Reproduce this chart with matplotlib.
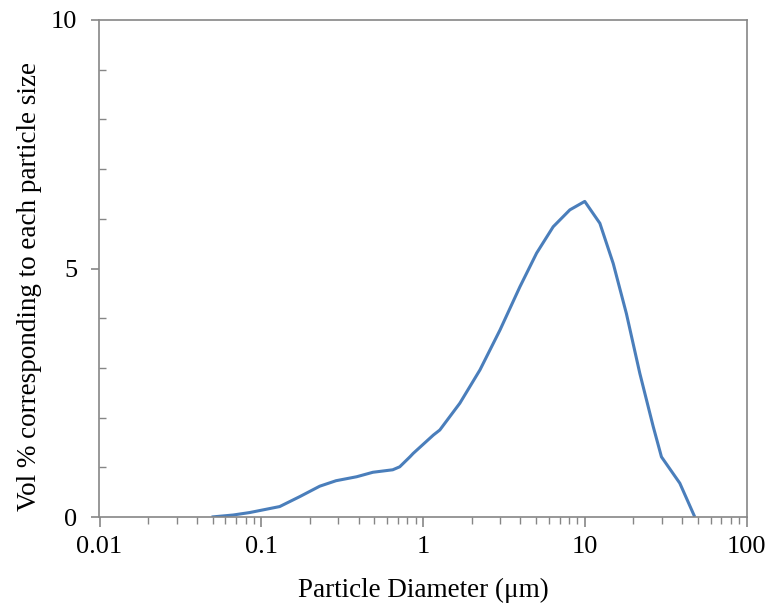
import matplotlib
matplotlib.use("Agg")
import matplotlib.pyplot as plt
from matplotlib.ticker import LogLocator, FixedLocator, NullFormatter

diameter_um = [0.0493, 0.067, 0.085, 0.13, 0.173, 0.23, 0.29, 0.389, 0.49, 0.65, 0.718,
               0.83, 0.87, 1.16, 1.27, 1.69, 2.25, 2.99, 3.97, 5.04, 6.38, 8.09, 10.0,
               12.4, 15.0, 18.1, 21.9, 26.5, 29.8, 38.7, 47.9]
vol_pct = [0.0, 0.04, 0.09, 0.21, 0.41, 0.62, 0.73, 0.81, 0.90, 0.95, 1.01,
           1.21, 1.28, 1.65, 1.75, 2.29, 2.96, 3.76, 4.63, 5.31, 5.84, 6.18, 6.35,
           5.91, 5.10, 4.09, 2.89, 1.82, 1.21, 0.68, 0.0]

x_ticks = [0.01, 0.1, 1, 10, 100]
x_tick_labels = ["0.01", "0.1", "1", "10", "100"]
y_ticks = [0, 5, 10]
y_minor_ticks = [1, 2, 3, 4, 6, 7, 8, 9]

plt.rcParams['font.family'] = ['Liberation Serif', 'DejaVu Serif']

fig = plt.figure(figsize=(7.7, 6.1), dpi=100)
ax = fig.add_axes([99.5/770, 93/610, 647/770, 497/610])

ax.plot(diameter_um, vol_pct, color='#4a7ebb', linewidth=2.2, solid_joinstyle='round',
        solid_capstyle='butt')

ax.set_xscale('log')
ax.set_xlim(0.01, 100)
ax.set_ylim(0, 10)

ax.xaxis.set_major_locator(FixedLocator(x_ticks))
ax.set_xticklabels(x_tick_labels)
ax.xaxis.set_minor_locator(LogLocator(base=10, subs=range(2, 10)))
ax.xaxis.set_minor_formatter(NullFormatter())
ax.set_yticks(y_ticks)
ax.yaxis.set_minor_locator(FixedLocator(y_minor_ticks))

gray = '#868686'
for s in ax.spines.values():
    s.set_color(gray)
    s.set_linewidth(1.2)

ax.tick_params(axis='x', which='major', direction='out', length=7, width=1.2, color=gray,
               labelsize=19, pad=7)
ax.tick_params(axis='x', which='minor', direction='out', length=5, width=1.0, color=gray)
ax.tick_params(axis='y', which='major', direction='out', length=6, width=1.2, color=gray,
               labelsize=19, pad=10)
ax.tick_params(axis='y', which='minor', direction='in', length=5, width=1.0, color=gray)

ax.set_xlabel('Particle Diameter (μm)', fontsize=19.5, labelpad=14)
ax.set_ylabel('Vol % corresponding to each particle size', fontsize=19.5)
ax.yaxis.set_label_coords(-0.089, 0.463)

fig.savefig('out.png', dpi=100)
